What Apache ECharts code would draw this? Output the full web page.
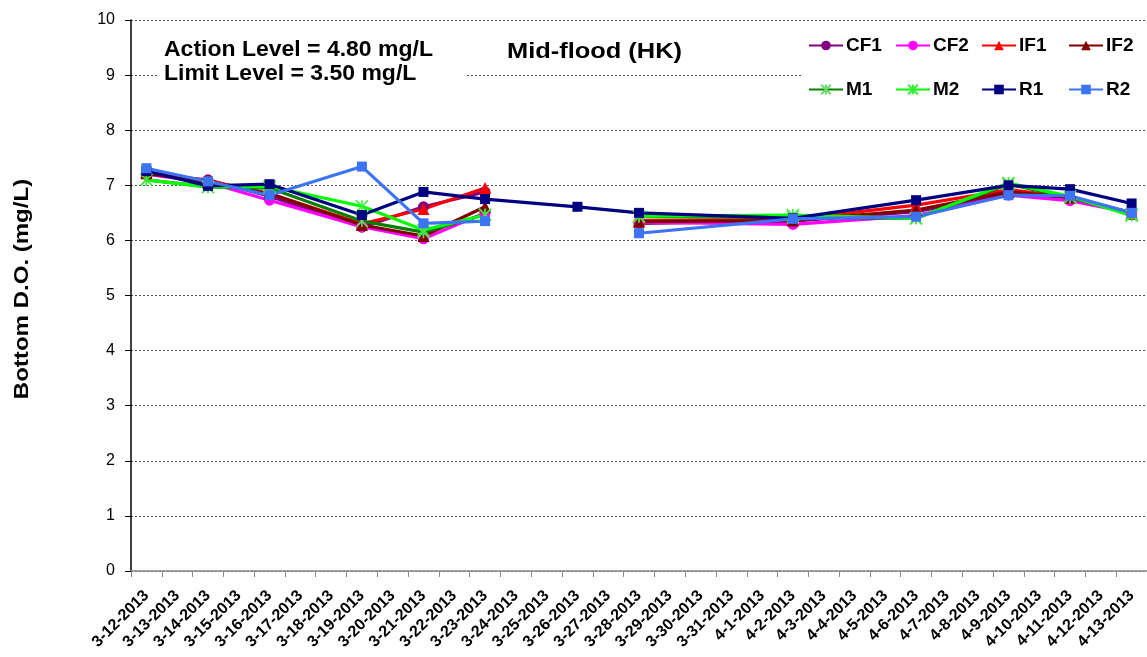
<!DOCTYPE html>
<html>
<head>
<meta charset="utf-8">
<script src="https://cdn.jsdelivr.net/npm/echarts@6/dist/echarts.min.js"></script>
<style>
  html, body { margin: 0; padding: 0; background: #fff; }
  #chart { width: 1147px; height: 657px; }
</style>
</head>
<body>
<div id="chart"></div>
<script>
// Calendar days shown on the category axis
const days = [
  '3-12-2013','3-13-2013','3-14-2013','3-15-2013','3-16-2013','3-17-2013','3-18-2013',
  '3-19-2013','3-20-2013','3-21-2013','3-22-2013','3-23-2013','3-24-2013','3-25-2013',
  '3-26-2013','3-27-2013','3-28-2013','3-29-2013','3-30-2013','3-31-2013','4-1-2013',
  '4-2-2013','4-3-2013','4-4-2013','4-5-2013','4-6-2013','4-7-2013','4-8-2013',
  '4-9-2013','4-10-2013','4-11-2013','4-12-2013','4-13-2013'
];

// Sampling days (monitoring visits)
const sampleDays = [
  '3-12-2013','3-14-2013','3-16-2013','3-19-2013','3-21-2013','3-23-2013','3-26-2013',
  '3-28-2013','4-2-2013','4-6-2013','4-9-2013','4-11-2013','4-13-2013'
];

// Bottom dissolved oxygen (mg/L) per station, one value per sampling day
const CF1 = [7.20, 7.10, 6.80, 6.24, 6.61, 6.88, null, 6.31, 6.35, 6.52, 6.85, 6.78, 6.50];
const CF2 = [7.20, 7.05, 6.73, 6.25, 6.03, 6.50, null, 6.33, 6.29, 6.45, 6.82, 6.72, 6.50];
const IF1 = [7.24, 7.08, 6.85, 6.30, 6.57, 6.95, null, 6.36, 6.38, 6.64, 6.92, 6.78, 6.48];
const IF2 = [7.22, 7.05, 6.85, 6.28, 6.08, 6.61, null, 6.34, 6.36, 6.55, 6.88, 6.78, 6.50];
const M1  = [7.10, 6.97, 6.95, 6.35, 6.15, 6.47, null, 6.43, 6.42, 6.40, 7.02, 6.78, 6.48];
const M2  = [7.10, 6.97, 6.98, 6.62, 6.19, 6.46, null, 6.44, 6.46, 6.40, 7.04, 6.80, 6.45];
const R1  = [7.26, 6.99, 7.02, 6.46, 6.88, 6.75, 6.61, 6.50, 6.40, 6.73, 7.00, 6.93, 6.67];
const R2  = [7.31, 7.07, 6.82, 7.34, 6.31, 6.35, null, 6.13, 6.39, 6.43, 6.82, 6.81, 6.50];

const yTicks = [0, 1, 2, 3, 4, 5, 6, 7, 8, 9, 10];

const FONT = '"Liberation Sans", Arial, sans-serif';
const ASTERISK = 'path://M0,0 L10,10 M10,0 L0,10 M5,0 L5,10';

const stations = [
  { name: 'CF1', values: CF1, color: '#800080', symbol: 'circle',   size: 11 },
  { name: 'CF2', values: CF2, color: '#ff00ff', symbol: 'circle',   size: 11 },
  { name: 'IF1', values: IF1, color: '#ff0000', symbol: 'triangle', size: 12 },
  { name: 'IF2', values: IF2, color: '#800000', symbol: 'triangle', size: 12 },
  { name: 'M1',  values: M1,  color: '#008000', symbol: ASTERISK,   size: 12, mark: '#66dd66' },
  { name: 'M2',  values: M2,  color: '#00ff00', symbol: ASTERISK,   size: 12, mark: '#33ee33' },
  { name: 'R1',  values: R1,  color: '#000080', symbol: 'rect',     size: 10 },
  { name: 'R2',  values: R2,  color: '#3d74f5', symbol: 'rect',     size: 10 }
];

const series = stations.map(s => {
  const isStar = s.symbol === ASTERISK;
  return {
    name: s.name,
    type: 'line',
    data: sampleDays.map((d, i) => [d, s.values[i]]),
    connectNulls: false,
    symbol: s.symbol,
    symbolSize: s.size,
    showAllSymbol: true,
    lineStyle: { color: s.color, width: 3.2 },
    itemStyle: isStar
      ? { color: 'rgba(0,0,0,0)', borderColor: s.mark, borderWidth: 1.5 }
      : { color: s.color, borderWidth: 0 },
    emphasis: { disabled: true },
    animation: false
  };
});

// One legend block per station so each sits in a fixed 4 x 2 slot
const legendCols = [808, 895, 981, 1068];
const legendRows = [36, 80];
const legends = stations.map((s, i) => ({
  left: legendCols[i % 4],
  top: legendRows[Math.floor(i / 4)],
  padding: 0,
  itemWidth: 34,
  itemHeight: 12,
  selectedMode: false,
  textStyle: { fontFamily: FONT, fontSize: 19, fontWeight: 'bold', color: '#000', padding: [0, 0, 0, -2] },
  data: [s.name]
}));

function banner(text, x, y, size, sx) {
  return {
    type: 'text', z: 5, x: x, y: y, scaleX: sx, scaleY: 1,
    style: { text: text, font: 'bold ' + size + 'px ' + FONT, fill: '#000', textVerticalAlign: 'top' }
  };
}

const chart = echarts.init(document.getElementById('chart'), null, { renderer: 'canvas' });
chart.setOption({
  animation: false,
  backgroundColor: '#fff',
  grid: { left: 131, top: 20, width: 1021, bottom: 86, containLabel: false },
  xAxis: {
    type: 'category',
    data: days,
    boundaryGap: true,
    axisLine: { lineStyle: { color: '#888', width: 1.5 } },
    axisTick: { show: true, interval: 0, length: 6, lineStyle: { color: '#888' } },
    axisLabel: {
      interval: 0, rotate: 45, margin: 22,
      fontFamily: FONT, fontSize: 16, fontWeight: 'bold', color: '#000'
    },
    splitLine: { show: false }
  },
  yAxis: {
    type: 'value',
    min: yTicks[0],
    max: yTicks[yTicks.length - 1],
    interval: 1,
    axisLine: { show: true, lineStyle: { color: '#000', width: 1.5 } },
    axisTick: { show: true, length: 6, lineStyle: { color: '#000' } },
    axisLabel: { fontFamily: FONT, fontSize: 16, color: '#000', margin: 16 },
    splitLine: { lineStyle: { color: '#555', type: [2, 2], width: 1 } }
  },
  legend: legends,
  graphic: [
    { type: 'rect', z: 1, shape: { x: 158, y: 30, width: 307, height: 64 }, style: { fill: '#fff' } },
    { type: 'rect', z: 1, shape: { x: 803, y: 27, width: 350, height: 80 }, style: { fill: '#fff' } },
    banner('Action Level = 4.80 mg/L', 164, 39, 22, 1.045),
    banner('Limit Level = 3.50 mg/L', 164, 63, 22, 1.045),
    banner('Mid-flood (HK)', 507, 41, 22, 1.155),
    {
      type: 'text', z: 5, x: 22, y: 289, rotation: Math.PI / 2, scaleX: 1.145, scaleY: 1,
      style: {
        text: 'Bottom D.O. (mg/L)', font: 'bold 21px ' + FONT, fill: '#000',
        textAlign: 'center', textVerticalAlign: 'middle'
      }
    }
  ],
  series: series
});
</script>
</body>
</html>
